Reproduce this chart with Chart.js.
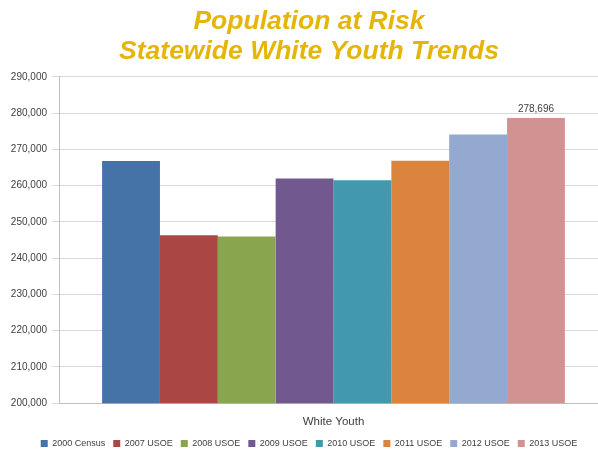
<!DOCTYPE html>
<html>
<head>
<meta charset="utf-8">
<script src="https://cdn.jsdelivr.net/npm/chart.js@4/dist/chart.umd.min.js"></script>
<style>
  html, body { margin: 0; padding: 0; background: #ffffff; overflow: hidden; }
  #wrap { width: 598px; height: 453px; overflow: hidden; }
  canvas { display: block; }
</style>
</head>
<body>
<div id="wrap"><canvas id="chart" width="608" height="458"></canvas></div>
<script>
// Statewide white youth population by data source
const categories = ['White Youth'];
const seriesNames = ['2000 Census', '2007 USOE', '2008 USOE', '2009 USOE', '2010 USOE', '2011 USOE', '2012 USOE', '2013 USOE'];
const seriesValues = [266800, 246300, 246000, 262000, 261500, 266900, 274100, 278696];
const seriesColors = ['#4572A7', '#AA4643', '#89A54E', '#71588F', '#4198AF', '#DB843D', '#93A9CF', '#D19392'];
const labelledSeries = ['2013 USOE'];
const yMin = 200000, yMax = 290000, yStep = 10000;

const fmt = v => v.toLocaleString('en-US');

// Writes the value above bars of the labelled series
const valueLabels = {
  id: 'valueLabels',
  afterDatasetsDraw(chart) {
    const ctx = chart.ctx;
    ctx.save();
    ctx.font = '10px "Liberation Sans", Arial, sans-serif';
    ctx.fillStyle = '#404040';
    ctx.textAlign = 'center';
    ctx.textBaseline = 'bottom';
    chart.data.datasets.forEach((ds, i) => {
      if (!labelledSeries.includes(ds.label)) return;
      chart.getDatasetMeta(i).data.forEach((bar, j) => {
        ctx.fillText(fmt(ds.data[j]), bar.x, bar.y - 4);
      });
    });
    ctx.restore();
  }
};

new Chart(document.getElementById('chart'), {
  type: 'bar',
  data: {
    labels: categories,
    datasets: seriesNames.map((name, i) => ({
      label: name,
      data: [seriesValues[i]],
      backgroundColor: seriesColors[i],
      borderWidth: 0,
      barPercentage: 1.0,
      categoryPercentage: 0.843
    }))
  },
  options: {
    responsive: false,
    devicePixelRatio: 1,
    animation: false,
    layout: { padding: { left: 10, right: 0, top: 6, bottom: 0 } },
    plugins: {
      title: {
        display: true,
        text: ['Population at Risk', 'Statewide White Youth Trends'],
        color: '#E5B50A',
        font: { family: '"Liberation Sans", Arial, sans-serif', size: 26.5, weight: 'bold', style: 'italic', lineHeight: 1.15 },
        padding: { top: 0, bottom: 10 }
      },
      legend: {
        position: 'bottom',
        labels: {
          boxWidth: 7,
          boxHeight: 7,
          color: '#404040',
          font: { family: '"Liberation Sans", Arial, sans-serif', size: 9 },
          padding: 8
        }
      },
      tooltip: { enabled: false }
    },
    scales: {
      x: {
        grid: { display: false, drawTicks: false },
        border: { display: true, color: '#BFBFBF' },
        afterFit(scale) { scale.height = scale.height - 10; },
        ticks: {
          color: '#404040',
          font: { family: '"Liberation Sans", Arial, sans-serif', size: 11.5 },
          padding: 12
        }
      },
      y: {
        min: yMin,
        max: yMax,
        afterFit(scale) { scale.width = 49; },
        ticks: {
          stepSize: yStep,
          color: '#404040',
          font: { family: '"Liberation Sans", Arial, sans-serif', size: 10 },
          padding: 5,
          callback: v => fmt(v)
        },
        grid: { color: '#D9D9D9', tickLength: 7, tickColor: '#D9D9D9' },
        border: { color: '#BFBFBF' }
      }
    }
  },
  plugins: [valueLabels]
});
</script>
</body>
</html>
